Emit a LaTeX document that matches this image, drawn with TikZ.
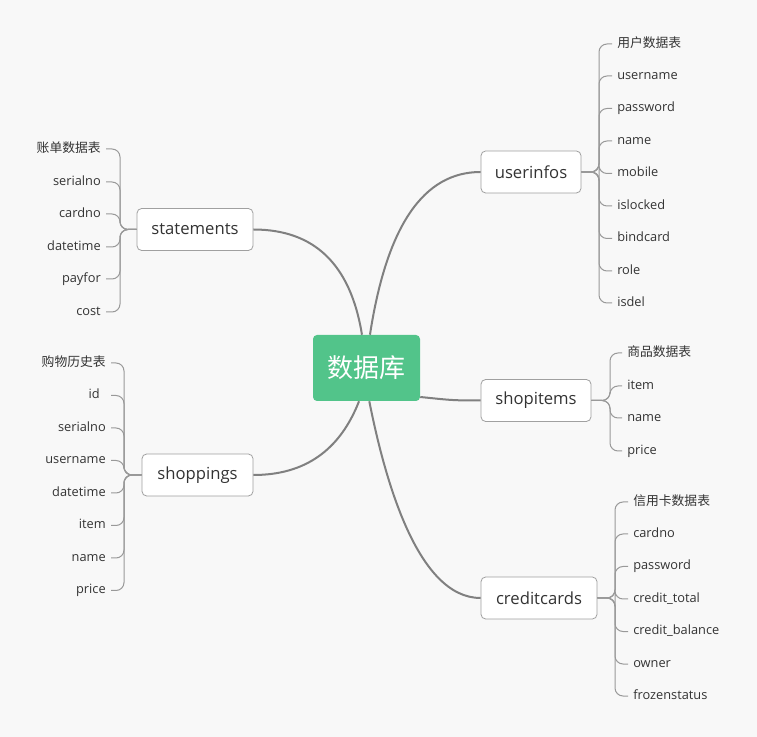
\documentclass[tikz,border=0pt]{standalone}
\usepackage{fontspec}
\setmainfont{Open Sans}
\newfontfamily\cjk{Noto Sans CJK SC}
\usetikzlibrary{calc}
\definecolor{bg}{HTML}{F8F8F8}
\definecolor{hubgreen}{HTML}{52C48A}
\definecolor{txt}{HTML}{333333}
\definecolor{edgec}{HTML}{808080}
\definecolor{boxline}{HTML}{A0A0A0}
\definecolor{leafline}{HTML}{999999}
\begin{document}
\begin{tikzpicture}[x=0.75pt,y=-0.75pt,
  root/.style={fill=hubgreen, rounded corners=3pt, minimum width=80.25pt, minimum height=49.5pt,
    text=white, font=\cjk\fontsize{19.5}{22}\selectfont, inner sep=0pt},
  topic/.style={draw=boxline, fill=white, rounded corners=3.5pt, line width=0.6pt,
    minimum height=31.5pt, text=txt, font=\fontsize{12.5}{14}\selectfont, inner sep=0pt},
  leaf/.style={text=txt, font=\fontsize{9.6}{11}\selectfont, inner xsep=3.75pt, inner ysep=0pt,
    text height=7pt, text depth=2pt, yshift=-1.5pt},
  leafR/.style={leaf, anchor=west},
  leafL/.style={leaf, anchor=east},
  mainedge/.style={draw=edgec, line width=1.5pt},
  brace/.style={draw=leafline, line width=0.75pt, rounded corners=6pt}
]
\fill[bg] (0,0) rectangle (757,737);
\useasboundingbox (0,0) rectangle (757,737);

\node[root] (db) at (366.5,368) {数据库};
\node[topic, minimum width=75pt] (ui) at (531,172) {userinfos};
\node[topic, minimum width=87pt] (st) at (195,229.5) {statements};
\node[topic, minimum width=82.5pt] (si) at (536,400.5) {shopitems};
\node[topic, minimum width=83.25pt] (sh) at (197.5,475) {shoppings};
\node[topic, minimum width=87pt] (cc) at (539,598) {creditcards};

% main connectors
\draw[mainedge] ([xshift=2.6pt]db.north) .. controls +(16.7,-108.7) and +(-57.3,0) .. (ui.west);
\draw[mainedge] ([xshift=-3.4pt]db.north) .. controls +(-11.3,-70) and +(61.3,0) .. (st.east);
\draw[mainedge] ([yshift=-21.75pt]db.east) .. controls +(30,3) and +(-30,0) .. (si.west);
\draw[mainedge] ([xshift=-5.6pt]db.south) .. controls +(-19.3,49.3) and +(51.3,0) .. (sh.east);
\draw[mainedge] ([xshift=2.1pt]db.south) .. controls +(15.7,79) and +(-63,0) .. (cc.west);

% userinfos leaves
\coordinate (uisp) at (599,172);
\foreach \t/\y [count=\i] in {{\cjk 用户数据表}/42, username/74, password/106.5, name/139, mobile/171.5, islocked/204, bindcard/236.5, role/269, isdel/301}{
  \node[leafR] (ul\i) at (612,\y) {\t};
  \draw[brace] (ui.east) -- (uisp) |- (ul\i.west);
}

% statements leaves
\coordinate (stsp) at (120,229.5);
\foreach \t/\y [count=\i] in {{\cjk 账单数据表}/147, serialno/180, cardno/212, datetime/245, payfor/277, cost/310}{
  \node[leafL] (sl\i) at (106,\y) {\t};
  \draw[brace] (st.west) -- (stsp) |- (sl\i.east);
}

% shopitems leaves
\coordinate (sisp) at (610,400.5);
\foreach \t/\y [count=\i] in {{\cjk 商品数据表}/351, item/384, name/416, price/449}{
  \node[leafR] (il\i) at (622,\y) {\t};
  \draw[brace] (si.east) -- (sisp) |- (il\i.west);
}

% shoppings leaves
\coordinate (shsp) at (124,475);
\foreach \t/\y [count=\i] in {{\cjk 购物历史表}/361, {id\hspace*{4.5pt}}/393.5, serialno/426, username/458.5, datetime/491, item/523.5, name/556, price/588.5}{
  \node[leafL] (hl\i) at (111,\y) {\t};
  \draw[brace] (sh.west) -- (shsp) |- (hl\i.east);
}

% creditcards leaves
\coordinate (ccsp) at (615,598);
\foreach \t/\y [count=\i] in {{\cjk 信用卡数据表}/500, cardno/532, password/564.5, credit\_total/597, credit\_balance/629.5, owner/662, frozenstatus/694}{
  \node[leafR] (cl\i) at (628,\y) {\t};
  \draw[brace] (cc.east) -- (ccsp) |- (cl\i.west);
}
\end{tikzpicture}
\end{document}
